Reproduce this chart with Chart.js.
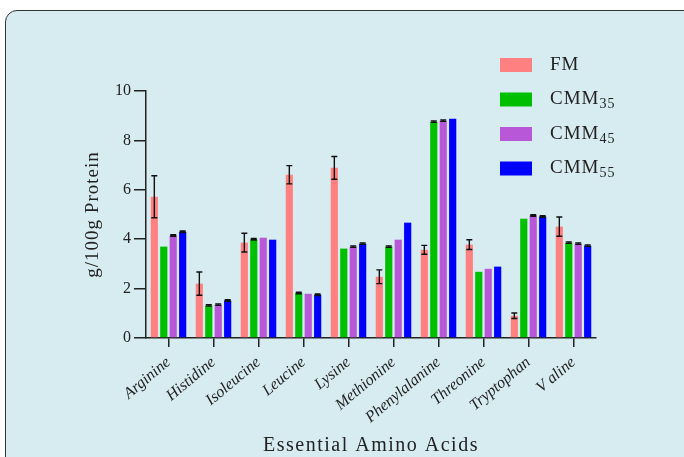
<!DOCTYPE html>
<html>
<head>
<meta charset="utf-8">
<script src="https://cdn.jsdelivr.net/npm/chart.js@4/dist/chart.umd.min.js"></script>
<style>
html,body{margin:0;padding:0;background:#fff;width:684px;height:457px;overflow:hidden;}
#card{position:absolute;left:5px;top:10px;width:700px;height:480px;border:1.5px solid #333;border-radius:12px;background:#d7ecf1;box-sizing:border-box;}
#wrap{position:absolute;left:0;top:0;width:684px;height:457px;}
</style>
</head>
<body>
<div id="card"></div>
<div id="wrap"><canvas id="c" width="684" height="457"></canvas></div>
<script>
const categories = ["Arginine","Histidine","Isoleucine","Leucine","Lysine","Methionine","Phenylalanine","Threonine","Tryptophan","V aline"];
const seriesNames = ["FM","CMM35","CMM45","CMM55"];
const fm     = [5.72, 2.20, 3.86, 6.61, 6.89, 2.48, 3.57, 3.78, 0.90, 4.51];
const fmErr  = [0.85, 0.47, 0.38, 0.37, 0.46, 0.28, 0.18, 0.20, 0.11, 0.39];
const cmm35    = [3.70, 1.32, 4.00, 1.82, 3.62, 3.70, 8.76, 2.68, 4.83, 3.86];
const cmm35Err = [0, 0.03, 0.03, 0.03, 0, 0.03, 0.03, 0, 0, 0.03];
const cmm45    = [4.15, 1.35, 4.06, 1.79, 3.70, 3.98, 8.80, 2.80, 4.96, 3.82];
const cmm45Err = [0.03, 0.03, 0, 0, 0.03, 0, 0.03, 0, 0.03, 0.03];
const cmm55    = [4.30, 1.52, 3.98, 1.75, 3.82, 4.67, 8.88, 2.89, 4.92, 3.74];
const cmm55Err = [0.03, 0.03, 0, 0.03, 0.03, 0, 0, 0, 0.03, 0.03];
const yTicks = [0, 2, 4, 6, 8, 10];
const xTitle = 'Essential Amino Acids';
const yTitle = 'g/100g Protein';

const colors = ["#ff8080", "#00bf00", "#b857d8", "#0000ff"];
const values = [fm, cmm35, cmm45, cmm55];
const errors = [fmErr, cmm35Err, cmm45Err, cmm55Err];

const SERIF = "'Liberation Serif', 'DejaVu Serif', serif";

const titlesPlugin = {
  id: 'titles',
  afterDraw(chart) {
    const ctx = chart.ctx;
    const a = chart.chartArea;
    ctx.save();
    ctx.letterSpacing = '1.5px';
    ctx.fillStyle = '#222';
    ctx.textAlign = 'center';
    ctx.textBaseline = 'alphabetic';
    ctx.font = "20px " + SERIF;
    ctx.fillText(xTitle, (a.left + a.right) / 2, 451);
    ctx.translate(98, (a.top + a.bottom) / 2);
    ctx.rotate(-Math.PI / 2);
    ctx.letterSpacing = '1px';
    ctx.font = "19px " + SERIF;
    ctx.fillText(yTitle, 0, 0);
    ctx.restore();
  }
};

const errorBarPlugin = {
  id: 'errorBars',
  afterDatasetsDraw(chart) {
    const ctx = chart.ctx;
    const y = chart.scales.y;
    ctx.save();
    ctx.strokeStyle = '#111';
    ctx.lineWidth = 1.4;
    chart.data.datasets.forEach((ds, di) => {
      const meta = chart.getDatasetMeta(di);
      meta.data.forEach((bar, i) => {
        const e = ds.err[i];
        if (!e) return;
        const v = ds.data[i];
        const top = y.getPixelForValue(v + e);
        const bot = y.getPixelForValue(v - e);
        const x = bar.x;
        ctx.beginPath();
        ctx.moveTo(x, top); ctx.lineTo(x, bot);
        ctx.moveTo(x - 3, top); ctx.lineTo(x + 3, top);
        ctx.moveTo(x - 3, bot); ctx.lineTo(x + 3, bot);
        ctx.stroke();
      });
    });
    ctx.restore();
  }
};

const legendPlugin = {
  id: 'customLegend',
  afterDraw(chart) {
    const ctx = chart.ctx;
    ctx.save();
    ctx.letterSpacing = '1px';
    const x0 = 500, y0 = 65, dy = 34.5;
    chart.data.datasets.forEach((ds, i) => {
      const cy = y0 + i * dy;
      ctx.fillStyle = ds.backgroundColor;
      ctx.fillRect(x0, cy - 7, 32, 14);
      ctx.fillStyle = '#222';
      ctx.textBaseline = 'middle';
      ctx.textAlign = 'left';
      const name = ds.label;
      const m = name.match(/^([A-Za-z]+)(\d*)$/);
      ctx.font = "19px " + SERIF;
      ctx.fillText(m[1], x0 + 50, cy);
      if (m[2]) {
        const w = ctx.measureText(m[1]).width;
        ctx.font = "14px " + SERIF;
        ctx.fillText(m[2], x0 + 50 + w, cy + 5);
      }
    });
    ctx.restore();
  }
};

new Chart(document.getElementById('c'), {
  type: 'bar',
  data: {
    labels: categories,
    datasets: seriesNames.map((n, i) => ({
      label: n,
      data: values[i],
      err: errors[i],
      backgroundColor: colors[i],
      borderWidth: 0,
      categoryPercentage: 0.84,
      barPercentage: 0.76
    }))
  },
  options: {
    responsive: false,
    animation: false,
    devicePixelRatio: 1,
    layout: { autoPadding: false, padding: { left: 80, top: 91, right: 88, bottom: 0 } },
    plugins: { legend: { display: false }, tooltip: { enabled: false } },
    scales: {
      x: {
        afterFit(s) { s.height = 119; },
        grid: { display: true, offset: false, drawOnChartArea: false, drawTicks: true, tickLength: 9, color: '#222', lineWidth: 1.5 },
        border: { display: true, color: '#222', width: 1.5 },
        ticks: {
          minRotation: 40, maxRotation: 40, padding: 6,
          color: '#222',
          font: { family: SERIF, size: 16, style: 'italic' }
        },
        title: { display: false }
      },
      y: {
        min: 0, max: 10,
        afterFit(s) { s.width = 66; },
        afterBuildTicks(s) { s.ticks = yTicks.map(v => ({ value: v })); },
        grid: { display: true, drawOnChartArea: false, drawTicks: true, tickLength: 12, color: '#222', lineWidth: 1.5 },
        border: { display: true, color: '#222', width: 1.5 },
        ticks: {
          padding: 3, color: '#222',
          font: { family: SERIF, size: 16 }
        },
        title: { display: false }
      }
    }
  },
  plugins: [errorBarPlugin, legendPlugin, titlesPlugin]
});
</script>
</body>
</html>
